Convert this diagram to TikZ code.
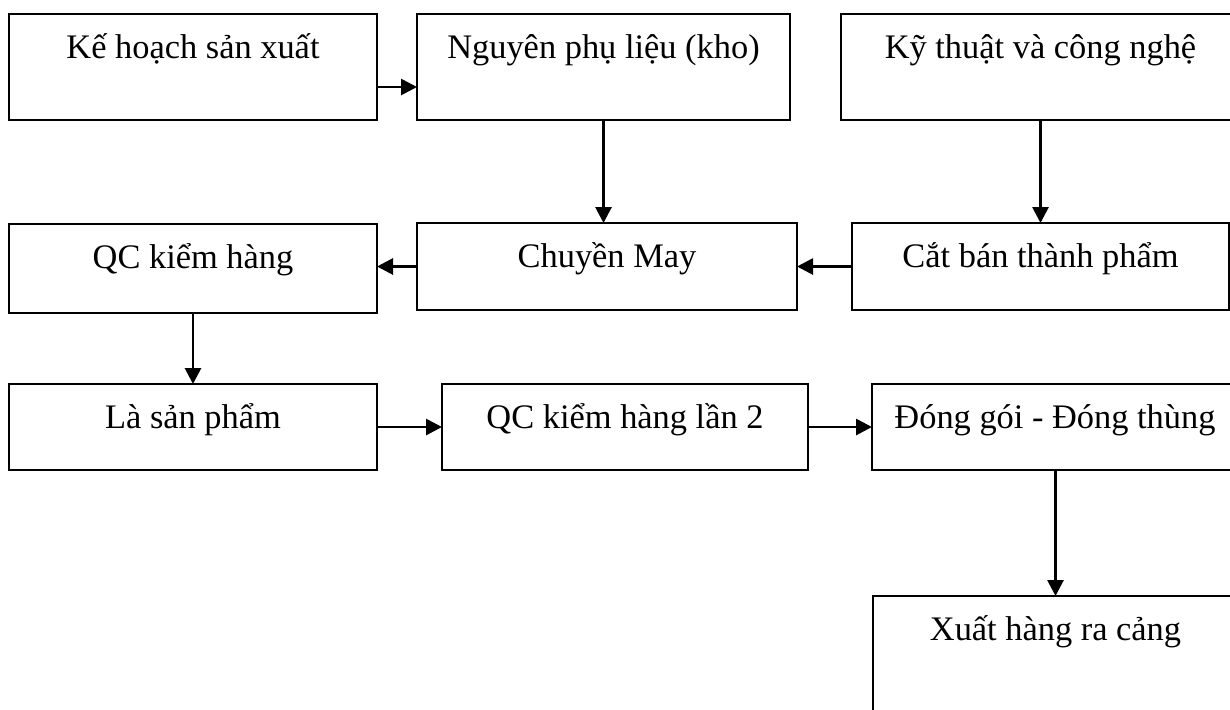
\documentclass[tikz,border=0pt]{standalone}
\usepackage{fontspec}
\setmainfont{Liberation Serif}
\usetikzlibrary{arrows.meta}

\tikzset{
	box/.style={draw, line width=0.9pt, inner sep=0pt, outer sep=0pt,
		anchor=north west, text height=22pt,
		font=\fontsize{17.2}{21}\selectfont},
	flow/.style={line width=1.4pt, -{Triangle[length=8pt,width=8pt]}}
}

\begin{document}
\begin{tikzpicture}[x=0.5pt, y=-0.5pt]
	\clip (0,0) rectangle (1230,709);

	\node [box, minimum width=184pt, text depth=31pt] (kehoach) at (9,14) {Kế hoạch sản xuất};
	\node [box, minimum width=186.5pt, text depth=31pt] (nguyen) at (417,14) {Nguyên phụ liệu (kho)};
	\node [box, minimum width=199.5pt, text depth=31pt] (kythuat) at (841,14) {Kỹ thuật và công nghệ};

	\node [box, minimum width=184pt, text depth=22.5pt] (qc) at (9,224) {QC kiểm hàng};
	\node [box, minimum width=190pt, text depth=21.5pt] (chuyen) at (417,223) {Chuyền May};
	\node [box, minimum width=188.5pt, text depth=21.5pt] (cat) at (852,223) {Cắt bán thành phẩm};

	\node [box, minimum width=184pt, text depth=21pt] (la) at (9,384) {Là sản phẩm};
	\node [box, minimum width=183pt, text depth=21pt] (qclan) at (442,384) {QC kiểm hàng lần 2};
	\node [box, minimum width=183pt, text depth=21pt] (donggoi) at (872,384) {Đóng gói - Đóng thùng};

	\node [box, minimum width=182.5pt, text depth=50pt] (xuat) at (873,596) {Xuất hàng ra cảng};

	\draw
		[flow] ([yshift=-10pt]kehoach.east) -- ([yshift=-10pt]nguyen.west);

	\draw
		[flow] (nguyen.south) -- (nguyen.south |- chuyen.north);

	\draw
		[flow] (cat.north |- kythuat.south) -- (cat.north);

	\draw
		[flow] (cat.west) -- (cat.west -| chuyen.east);

	\draw
		[flow] (chuyen.west) -- (chuyen.west -| qc.east);

	\draw
		[flow] (qc.south) -- (qc.south |- la.north);

	\draw
		[flow] (la.east) -- (la.east -| qclan.west);

	\draw
		[flow] (qclan.east) -- (qclan.east -| donggoi.west);

	\draw
		[flow] (xuat.north |- donggoi.south) -- (xuat.north);
\end{tikzpicture}
\end{document}
